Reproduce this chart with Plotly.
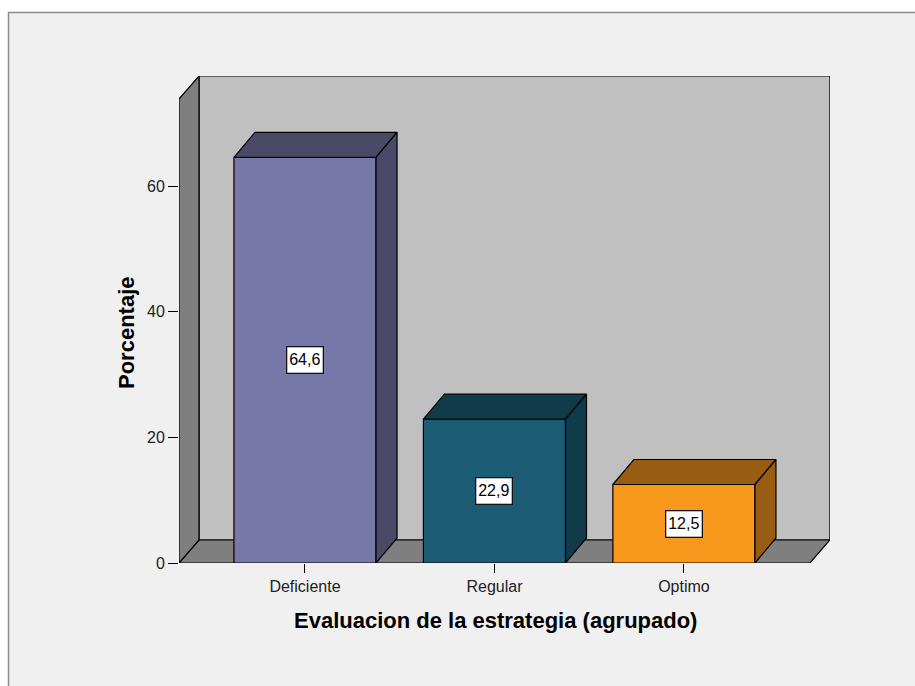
import plotly.graph_objects as go

# Data
categories = ["Deficiente", "Regular", "Optimo"]
percent = [64.6, 22.9, 12.5]
y_ticks = [0, 20, 40, 60]

front_colors = ["#7878a8", "#1b5c74", "#f7981d"]
shade_colors = ["#4a4a68", "#113a4a", "#985c12"]

FONT = "Arial, Liberation Sans, sans-serif"

# Figure geometry (pixels)
W, H = 915, 686
ML, MR, MT, MB = 179, 85, 76, 123
PW, PH = W - ML - MR, H - MT - MB

# Axis extents in data units
X_LO, X_HI = -0.665, 2.771
Y_LO, Y_HI = 0.0, 77.55
x_per_px = (X_HI - X_LO) / PW
y_per_px = (Y_HI - Y_LO) / PH

# 3D depth offsets (converted from pixels to data units)
WALL_DX, WALL_DY = 20 * x_per_px, 23 * y_per_px
BAR_DX, BAR_DY = 21 * x_per_px, 25 * y_per_px
BAR_W = 0.75
FLOOR_RIGHT = 2.665
WALL_TOP = Y_HI - WALL_DY

fig = go.Figure()


def face(xs, ys, color):
    fig.add_trace(go.Scatter(
        x=xs + [xs[0]], y=ys + [ys[0]], mode="lines", fill="toself",
        fillcolor=color, line=dict(color="black", width=1.2),
        hoverinfo="skip", showlegend=False))


# Back wall
face([X_LO + WALL_DX, FLOOR_RIGHT + WALL_DX, FLOOR_RIGHT + WALL_DX, X_LO + WALL_DX],
     [WALL_DY, WALL_DY, WALL_TOP + WALL_DY, WALL_TOP + WALL_DY], "#c0c0c0")
# Floor
face([X_LO, FLOOR_RIGHT, FLOOR_RIGHT + WALL_DX, X_LO + WALL_DX],
     [0, 0, WALL_DY, WALL_DY], "#7f7f7f")
# Left wall
face([X_LO, X_LO + WALL_DX, X_LO + WALL_DX, X_LO],
     [0, WALL_DY, WALL_TOP + WALL_DY, WALL_TOP], "#7f7f7f")

# Bars: front, top and side faces
for i, (cat, v) in enumerate(zip(categories, percent)):
    x0, x1 = i - BAR_W / 2, i + BAR_W / 2
    face([x0, x1, x1, x0], [0, 0, v, v], front_colors[i])
    face([x0, x1, x1 + BAR_DX, x0 + BAR_DX], [v, v, v + BAR_DY, v + BAR_DY], shade_colors[i])
    face([x1, x1 + BAR_DX, x1 + BAR_DX, x1], [0, BAR_DY, v + BAR_DY, v], shade_colors[i])

annotations = []
for i, v in enumerate(percent):
    annotations.append(dict(
        x=i, y=v / 2, xref="x", yref="y", text=f"{v:.1f}".replace(".", ","),
        xanchor="center", yanchor="middle", width=35, height=25,
        showarrow=False, bgcolor="white", bordercolor="#111", borderwidth=1.3,
        borderpad=0, font=dict(family=FONT, size=16, color="black")))


def px_x(p):
    return (p - ML) / PW


def px_y(p):
    return (H - MB - p) / PH


annotations.append(dict(
    x=px_x(495), y=px_y(620), xref="paper", yref="paper",
    xanchor="center", yanchor="middle",
    text="<b>Evaluacion de la estrategia (agrupado)</b>", showarrow=False,
    font=dict(family=FONT, size=22, color="black")))
annotations.append(dict(
    x=px_x(126), y=px_y(333), xref="paper", yref="paper", textangle=-90,
    xanchor="center", yanchor="middle",
    text="<b>Porcentaje</b>", showarrow=False,
    font=dict(family=FONT, size=22, color="black")))

# Outer chart frame
shapes = [dict(
    type="rect", xref="paper", yref="paper", layer="below",
    x0=px_x(8.5), x1=px_x(W + 20), y0=px_y(H + 20), y1=px_y(12.5),
    fillcolor="#f0f0f0", line=dict(color="#8a8a8a", width=1.5))]

fig.update_layout(
    width=W, height=H,
    margin=dict(l=ML, r=MR, t=MT, b=MB, pad=0),
    paper_bgcolor="white", plot_bgcolor="rgba(0,0,0,0)",
    font=dict(family=FONT, size=16, color="#222"),
    annotations=annotations, shapes=shapes,
    xaxis=dict(range=[X_LO, X_HI], tickvals=list(range(len(categories))),
               ticktext=categories, ticks="outside", ticklen=9, tickcolor="black",
               tickwidth=1.2, showgrid=False, zeroline=False, showline=False,
               fixedrange=True, tickfont=dict(family=FONT, size=16, color="#222")),
    yaxis=dict(range=[Y_LO, Y_HI], tickvals=y_ticks, ticks="outside", ticklen=10,
               tickcolor="black", tickwidth=1.2, showgrid=False, zeroline=False,
               showline=False, fixedrange=True, tickfont=dict(family=FONT, size=16, color="#222")),
    showlegend=False,
)

fig.write_html("out.html")
